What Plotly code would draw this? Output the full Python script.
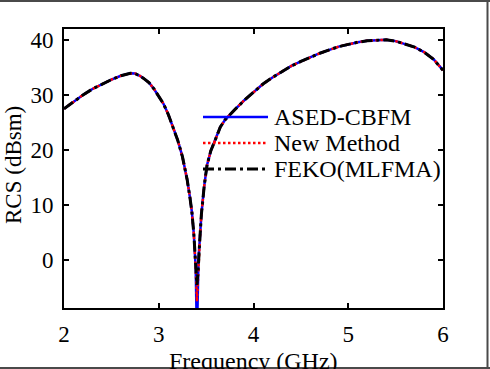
import plotly.graph_objects as go

freq = [2.00, 2.10, 2.20, 2.30, 2.40, 2.50, 2.60, 2.70, 2.75, 2.80, 2.85, 2.90, 2.95,
        3.00, 3.05, 3.10, 3.15, 3.20, 3.25, 3.30, 3.33, 3.35, 3.37, 3.38, 3.39, 3.403,
        3.415, 3.42, 3.435, 3.45, 3.48, 3.51, 3.55, 3.60, 3.65, 3.70, 3.75, 3.80, 3.90,
        4.00, 4.10, 4.20, 4.30, 4.40, 4.50, 4.60, 4.70, 4.80, 4.90, 5.00, 5.10, 5.20,
        5.30, 5.40, 5.50, 5.60, 5.70, 5.80, 5.90, 6.00]

rcs_ased = [27.5, 28.8, 30.0, 31.1, 32.0, 32.8, 33.5, 33.95, 33.9, 33.5, 32.9, 32.2, 31.1,
            29.8, 28.4, 26.5, 24.3, 21.8, 18.8, 14.6, 11.3, 8.7, 4.8, 2.2, -1.5, -14.0,
            -2.0, 0.5, 4.2, 8.3, 13.5, 17.3, 19.9, 22.0, 24.2, 25.5, 26.5, 27.3, 29.0,
            30.5, 32.0, 33.2, 34.3, 35.3, 36.1, 36.9, 37.6, 38.2, 38.8, 39.2, 39.6, 39.85,
            40.0, 40.05, 39.8, 39.3, 38.7, 37.8, 36.5, 34.5]

rcs_new = [27.5, 28.8, 30.0, 31.1, 32.0, 32.8, 33.5, 33.95, 33.9, 33.5, 32.9, 32.2, 31.1,
           29.8, 28.4, 26.5, 24.3, 21.8, 18.8, 14.6, 11.3, 8.7, 4.8, 2.2, -1.5, -7.5,
           -2.0, 0.5, 4.2, 8.3, 13.5, 17.3, 19.9, 22.0, 24.2, 25.5, 26.5, 27.3, 29.0,
           30.5, 32.0, 33.2, 34.3, 35.3, 36.1, 36.9, 37.6, 38.2, 38.8, 39.2, 39.6, 39.85,
           40.0, 40.05, 39.8, 39.3, 38.7, 37.8, 36.5, 34.5]

rcs_feko = [27.5, 28.8, 30.0, 31.1, 32.0, 32.8, 33.5, 33.95, 33.9, 33.5, 32.9, 32.2, 31.1,
            29.8, 28.4, 26.5, 24.3, 21.8, 18.8, 14.6, 11.3, 8.7, 4.8, 2.2, -1.5, -4.5,
            -2.0, 0.5, 4.2, 8.3, 13.5, 17.3, 19.9, 22.0, 24.2, 25.5, 26.5, 27.3, 29.0,
            30.5, 32.0, 33.2, 34.3, 35.3, 36.1, 36.9, 37.6, 38.2, 38.8, 39.2, 39.6, 39.85,
            40.0, 40.05, 39.8, 39.3, 38.7, 37.8, 36.5, 34.5]

series_names = ["ASED-CBFM", "New Method", "FEKO(MLFMA)"]
x_ticks = [2, 3, 4, 5, 6]
y_ticks = [0, 10, 20, 30, 40]

W, H = 490, 369
L, R, T, B = 64, 443, 29, 308


def px(x):
    return (x - L) / (R - L)


def py(y):
    return (B - y) / (B - T)


FONT = "Liberation Serif, serif"
styles = [
    dict(color="#0000ff", width=2.5, dash="solid"),
    dict(color="#ff0000", width=2.5, dash="2.5px,2.5px"),
    dict(color="#000000", width=3, dash="11px,4px,3px,4px"),
]

fig = go.Figure()
for name, vals, st in zip(series_names, [rcs_ased, rcs_new, rcs_feko], styles):
    fig.add_trace(go.Scatter(x=freq, y=vals, mode="lines", name=name,
                             line=st, showlegend=False, hoverinfo="skip"))

shapes = []
annotations = []
# manual legend
rows = [117, 143, 169]
for name, st, ry in zip(series_names, styles, rows):
    shapes.append(dict(type="line", xref="paper", yref="paper",
                       x0=px(203), x1=px(268), y0=py(ry), y1=py(ry), line=st))
    annotations.append(dict(text=name, xref="paper", yref="paper", x=px(272), y=py(ry),
                            xanchor="left", yanchor="middle", showarrow=False,
                            font=dict(family=FONT, size=24, color="black")))

# axis titles
annotations.append(dict(text="Frequency (GHz)", xref="paper", yref="paper",
                        x=px(253), y=py(346), xanchor="center", yanchor="top",
                        showarrow=False, font=dict(family=FONT, size=24, color="black")))
annotations.append(dict(text="RCS (dBsm)", xref="paper", yref="paper",
                        x=px(13), y=py(165), xanchor="center", yanchor="middle",
                        textangle=-90, showarrow=False,
                        font=dict(family=FONT, size=23, color="black")))

# outer picture frame (top, right, bottom)
frame = dict(color="#4a4a4a", width=2)
shapes.append(dict(type="line", xref="paper", yref="paper", x0=px(0), x1=px(490),
                   y0=py(1), y1=py(1), line=frame))
shapes.append(dict(type="line", xref="paper", yref="paper", x0=px(487.5), x1=px(487.5),
                   y0=py(0), y1=py(369), line=frame))
shapes.append(dict(type="line", xref="paper", yref="paper", x0=px(0), x1=px(490),
                   y0=py(368), y1=py(368), line=frame))

axis_common = dict(showgrid=False, zeroline=False, showline=True, linecolor="black",
                   linewidth=2, mirror="ticks", ticks="inside", ticklen=5, tickwidth=2,
                   tickcolor="black", tickfont=dict(family=FONT, size=23, color="black"))

fig.update_layout(
    width=W, height=H, autosize=False,
    margin=dict(l=L, r=W - R, t=T, b=H - B),
    paper_bgcolor="white", plot_bgcolor="white",
    showlegend=False,
    font=dict(family=FONT),
    shapes=shapes, annotations=annotations,
    xaxis=dict(range=[2, 6], tickvals=x_ticks, ticklabelstandoff=4, **axis_common),
    yaxis=dict(range=[-8.7, 42], tickvals=y_ticks, ticklabelstandoff=4, **axis_common),
)

fig.write_html("out.html", config={"displayModeBar": False},
               post_script="document.body.style.margin='0px';document.body.style.overflow='hidden';")
